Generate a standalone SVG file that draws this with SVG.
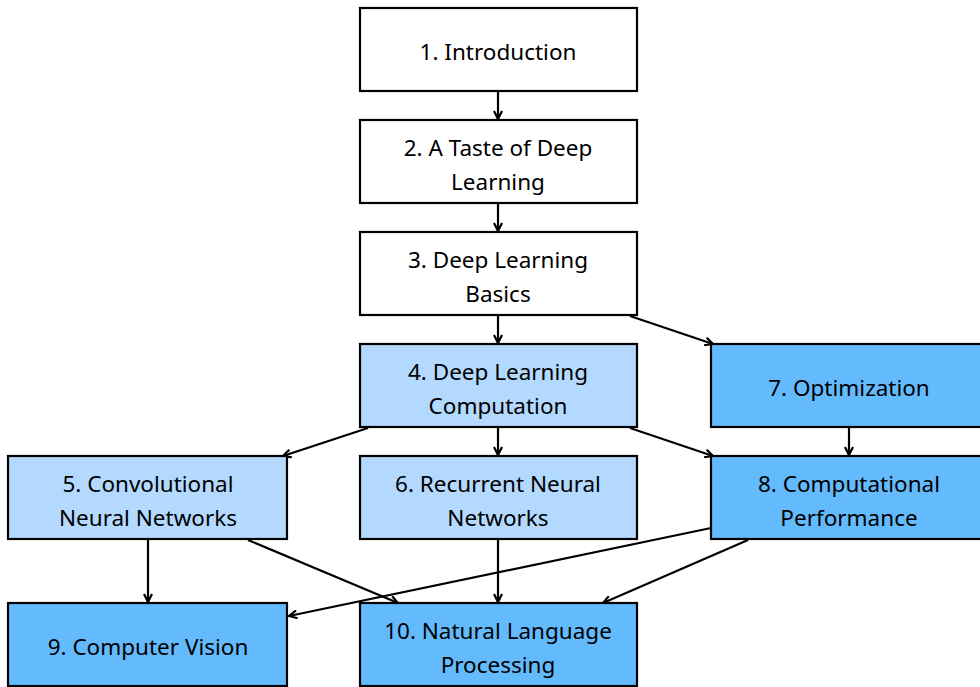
<svg xmlns="http://www.w3.org/2000/svg" width="980" height="687" viewBox="0 0 980 687">
  <defs>
    <marker id="arrow" viewBox="0 0 10 10" refX="9" refY="5" markerWidth="10" markerHeight="10" markerUnits="userSpaceOnUse" orient="auto">
      <path d="M1,1 L9,5 L1,9" fill="none" stroke="#000" stroke-width="2.2" stroke-linejoin="miter"/>
    </marker>
    <style>
      .box { stroke: #000; stroke-width: 2.2; }
      .plain { fill: #fff; }
      .light { fill: #b3d9fe; }
      .dark { fill: #63bbfe; }
      text { font-family: "Noto Sans", "Liberation Sans", sans-serif; font-size: 22.5px; fill: #000; text-anchor: middle; dominant-baseline: central; }
      .edge { stroke: #000; stroke-width: 2.2; fill: none; marker-end: url(#arrow); }
    </style>
  </defs>
  <rect width="980" height="687" fill="#fff"/>

  <g id="connectors">
    <line class="edge" x1="498" y1="92" x2="498" y2="119"/>
    <line class="edge" x1="498" y1="204" x2="498" y2="231"/>
    <line class="edge" x1="498" y1="316" x2="498" y2="343"/>
    <line class="edge" x1="630" y1="316" x2="713" y2="344"/>
    <line class="edge" x1="368" y1="428" x2="283" y2="456"/>
    <line class="edge" x1="498" y1="428" x2="498" y2="455"/>
    <line class="edge" x1="630" y1="428" x2="713" y2="456"/>
    <line class="edge" x1="849" y1="428" x2="849" y2="455"/>
    <line class="edge" x1="148" y1="540" x2="148" y2="602"/>
    <line class="edge" x1="248" y1="540" x2="398" y2="603"/>
    <line class="edge" x1="498" y1="540" x2="498" y2="602"/>
    <line class="edge" x1="711" y1="528" x2="289" y2="616"/>
    <line class="edge" x1="748" y1="540" x2="603" y2="603"/>
  </g>

  <g id="n1"><rect class="box plain" x="360" y="8" width="277" height="83"/><text x="498" y="51">1. Introduction</text></g>
  <g id="n2"><rect class="box plain" x="360" y="120" width="277" height="83"/><text x="498" y="147">2. A Taste of Deep</text><text x="498" y="181">Learning</text></g>
  <g id="n3"><rect class="box plain" x="360" y="232" width="277" height="83"/><text x="498" y="259">3. Deep Learning</text><text x="498" y="293">Basics</text></g>
  <g id="n4"><rect class="box light" x="360" y="344" width="277" height="83"/><text x="498" y="371">4. Deep Learning</text><text x="498" y="405">Computation</text></g>
  <g id="n7"><rect class="box dark" x="711" y="344" width="280" height="83"/><text x="849" y="387">7. Optimization</text></g>
  <g id="n5"><rect class="box light" x="8" y="456" width="279" height="83"/><text x="148" y="483">5. Convolutional</text><text x="148" y="517">Neural Networks</text></g>
  <g id="n6"><rect class="box light" x="360" y="456" width="277" height="83"/><text x="498" y="483">6. Recurrent Neural</text><text x="498" y="517">Networks</text></g>
  <g id="n8"><rect class="box dark" x="711" y="456" width="280" height="83"/><text x="849" y="483">8. Computational</text><text x="849" y="517">Performance</text></g>
  <g id="n9"><rect class="box dark" x="8" y="603" width="279" height="83"/><text x="148" y="646">9. Computer Vision</text></g>
  <g id="n10"><rect class="box dark" x="360" y="603" width="277" height="83"/><text x="498" y="630">10. Natural Language</text><text x="498" y="664">Processing</text></g>
</svg>
